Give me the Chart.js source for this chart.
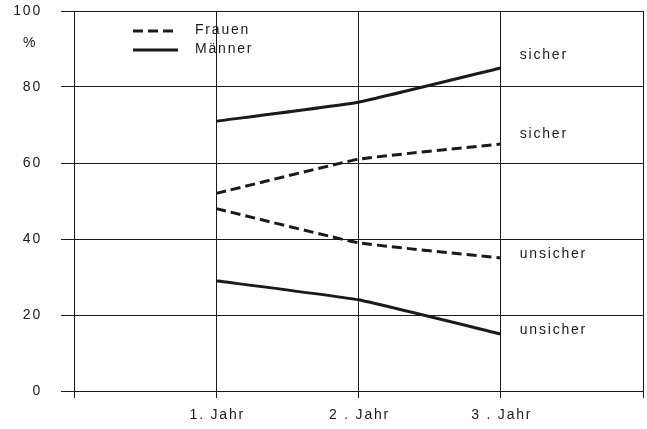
<!DOCTYPE html>
<html>
<head>
<meta charset="utf-8">
<script src="https://cdn.jsdelivr.net/npm/chart.js@4/dist/chart.umd.min.js"></script>
<style>
  html, body { margin: 0; padding: 0; background: #fff; }
  #wrap { width: 647px; height: 429px; }
</style>
</head>
<body>
<div id="wrap"><canvas id="chart" width="647" height="429"></canvas></div>
<script>
// categories (blank slots at both ends, as in the original)
const years = ['', '1. Jahr', '2 . Jahr', '3 . Jahr', ''];

// percent values per year
const maennerSicher = [null, 71, 76, 85, null];
const frauenSicher = [null, 52, 61, 65, null];
const frauenUnsicher = [null, 48, 39, 35, null];
const maennerUnsicher = [null, 29, 24, 15, null];

const yTicks = [0, 20, 40, 60, 80, 100];

// labels at the right end of the lines, with the value they sit at
const endLabels = [
  { text: 'sicher', value: 88.5 },
  { text: 'sicher', value: 67.5 },
  { text: 'unsicher', value: 36 },
  { text: 'unsicher', value: 16 },
];

const legendItems = [
  { text: 'Frauen', dash: [10, 5] },
  { text: 'Männer', dash: [] },
];

const FONT = '"Liberation Sans", Arial, sans-serif';
const INK = '#1a1a1a';
const SPACING = '1.8px';

const lineSet = (data, dash) => ({
  data,
  borderColor: INK,
  borderWidth: 3,
  borderDash: dash,
  pointRadius: 0,
  tension: 0.1,
  fill: false,
});

// all lettering drawn here: the print uses wide letter spacing,
// which the built-in tick labels can't do
const lettering = {
  id: 'lettering',
  afterDraw(chart) {
    const { ctx, chartArea, scales } = chart;
    const { x, y } = scales;
    ctx.save();
    ctx.letterSpacing = SPACING;
    ctx.fillStyle = INK;
    ctx.font = '14px ' + FONT;
    ctx.textBaseline = 'middle';

    // y tick labels
    ctx.textAlign = 'right';
    yTicks.forEach((v) => ctx.fillText(String(v), 42, y.getPixelForValue(v)));

    // "%" under the 100 tick
    ctx.textAlign = 'left';
    ctx.fillText('%', 23, y.getPixelForValue(91.5));

    // x tick labels
    ctx.textAlign = 'center';
    years.forEach((lbl, i) => {
      if (lbl) ctx.fillText(lbl, x.getPixelForValue(i) + 1, chartArea.bottom + 24);
    });

    // legend inside the plot
    ctx.textAlign = 'left';
    legendItems.forEach((item, i) => {
      const py = chartArea.top + 20 + i * 19;
      ctx.beginPath();
      ctx.setLineDash(item.dash);
      ctx.lineWidth = 3;
      ctx.strokeStyle = INK;
      ctx.moveTo(chartArea.left + 59, py);
      ctx.lineTo(chartArea.left + 104, py);
      ctx.stroke();
      ctx.setLineDash([]);
      ctx.fillText(item.text, chartArea.left + 121, py - 1);
    });

    // end labels
    const xEnd = x.getPixelForValue(3) + 19;
    endLabels.forEach(({ text, value }) => {
      ctx.fillText(text, xEnd, y.getPixelForValue(value));
    });
    ctx.restore();
  },
};

new Chart(document.getElementById('chart'), {
  type: 'line',
  data: {
    labels: years,
    datasets: [
      lineSet(maennerSicher, []),
      lineSet(frauenSicher, [10, 5]),
      lineSet(frauenUnsicher, [10, 5]),
      lineSet(maennerUnsicher, []),
    ],
  },
  options: {
    responsive: false,
    animation: false,
    layout: { padding: { top: 11, right: 4, left: 0, bottom: 0 } },
    plugins: { legend: { display: false }, tooltip: { enabled: false } },
    scales: {
      x: {
        offset: false,
        grid: { color: INK, lineWidth: 1, tickLength: 7, offset: false },
        border: { color: INK, width: 1 },
        ticks: { display: false, autoSkip: false },
        afterFit: (s) => { s.height = 38; },
      },
      y: {
        min: 0,
        max: 100,
        afterBuildTicks: (s) => { s.ticks = yTicks.map((v) => ({ value: v })); },
        grid: { color: INK, lineWidth: 1, tickLength: 13 },
        border: { color: INK, width: 1 },
        ticks: { display: false },
        afterFit: (s) => { s.width = 74; },
      },
    },
  },
  plugins: [lettering],
});
</script>
</body>
</html>
